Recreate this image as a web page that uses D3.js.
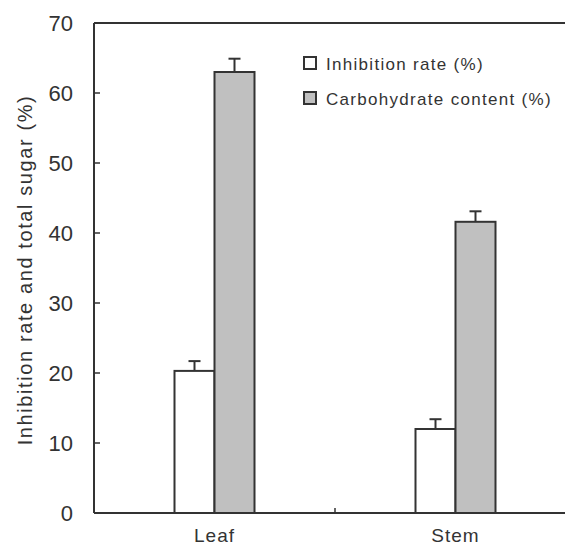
<!DOCTYPE html>
<meta charset="utf-8">
<style>
body { margin: 0; background: #fff; }
text { font-family: "Liberation Sans", Arial, sans-serif; fill: #333; }
</style>
<body>
<script src="https://d3js.org/d3.v7.min.js"></script>
<script>

var categories = ["Leaf", "Stem"],
    series = ["Inhibition rate (%)", "Carbohydrate content (%)"],
    inhibition = [20.3, 12.0],
    inhibitionErr = [1.4, 1.4],
    carbohydrate = [63.0, 41.6],
    carbohydrateErr = [1.9, 1.5],
    yTicks = [0, 10, 20, 30, 40, 50, 60, 70];

var width = 565, height = 549,
    x0 = 94, y0 = 513, yTop = 23;

var svg = d3.select("body").append("svg")
    .attr("width", width)
    .attr("height", height);

var x = d3.scaleBand().domain(categories).range([x0, x0 + 482]);
var y = d3.scaleLinear().domain([0, 70]).range([y0, yTop]);
var barW = 40;
var colors = ["#fff", "#c0c0c0"];

var rows = [];
categories.forEach(function(c, i) {
  rows.push({cat: c, s: 0, v: inhibition[i], e: inhibitionErr[i]});
  rows.push({cat: c, s: 1, v: carbohydrate[i], e: carbohydrateErr[i]});
});

function bx(d) { return x(d.cat) + x.bandwidth() / 2 + (d.s - 1) * barW; }

// error bars (drawn first, stem sits on the bar top)
var eb = svg.append("g").attr("stroke", "#333").attr("stroke-width", 2);
rows.forEach(function(d) {
  var cx = bx(d) + barW / 2;
  eb.append("line").attr("x1", cx).attr("x2", cx).attr("y1", y(d.v)).attr("y2", y(d.v + d.e));
  eb.append("line").attr("x1", cx - 6).attr("x2", cx + 6).attr("y1", y(d.v + d.e)).attr("y2", y(d.v + d.e));
});

svg.append("g").selectAll("rect").data(rows).join("rect")
    .attr("x", bx)
    .attr("y", function(d) { return y(d.v); })
    .attr("width", barW)
    .attr("height", function(d) { return y(0) - y(d.v); })
    .attr("fill", function(d) { return colors[d.s]; })
    .attr("stroke", "#333")
    .attr("stroke-width", 2);

// frame
var frame = svg.append("g").attr("stroke", "#333").attr("stroke-width", 2).attr("fill", "none");
frame.append("line").attr("x1", x0).attr("x2", width).attr("y1", y0).attr("y2", y0);
frame.append("line").attr("x1", x0).attr("x2", width).attr("y1", yTop).attr("y2", yTop);
frame.append("line").attr("x1", x0).attr("x2", x0).attr("y1", yTop).attr("y2", y0);

// y ticks
var yg = svg.append("g");
yTicks.forEach(function(t) {
  if (t > 0 && t < 70)
    yg.append("line").attr("x1", x0).attr("x2", x0 + 6).attr("y1", y(t)).attr("y2", y(t))
      .attr("stroke", "#333").attr("stroke-width", 1.5);
  yg.append("text").attr("x", 73).attr("y", y(t)).attr("dy", "0.36em")
    .attr("text-anchor", "end").style("font-size", "22px").text(t);
});

// x separator tick and labels
var sep = (x(categories[0]) + x(categories[1]) + x.bandwidth()) / 2;
svg.append("line").attr("x1", sep).attr("x2", sep).attr("y1", y0).attr("y2", y0 - 5)
    .attr("stroke", "#333").attr("stroke-width", 1.5);
svg.append("g").selectAll("text").data(categories).join("text")
    .attr("x", function(d) { return x(d) + x.bandwidth() / 2; })
    .attr("y", 542)
    .attr("text-anchor", "middle")
    .style("font-size", "19px")
    .style("letter-spacing", "1px")
    .text(function(d) { return d; });

// y label
svg.append("text")
    .attr("transform", "translate(32,270) rotate(-90)")
    .attr("text-anchor", "middle")
    .style("font-size", "20px")
    .style("letter-spacing", "1.6px")
    .text("Inhibition rate and total sugar (%)");

// legend
var lg = svg.append("g").selectAll("g").data(series).join("g")
    .attr("transform", function(d, i) { return "translate(304," + (57 + i * 35) + ")"; });
lg.append("rect").attr("width", 12).attr("height", 12)
    .attr("fill", function(d, i) { return colors[i]; })
    .attr("stroke", "#333").attr("stroke-width", 2);
lg.append("text").attr("x", 22).attr("y", 12.5).style("font-size", "17px")
    .style("letter-spacing", "1.3px")
    .text(function(d) { return d; });

</script>
